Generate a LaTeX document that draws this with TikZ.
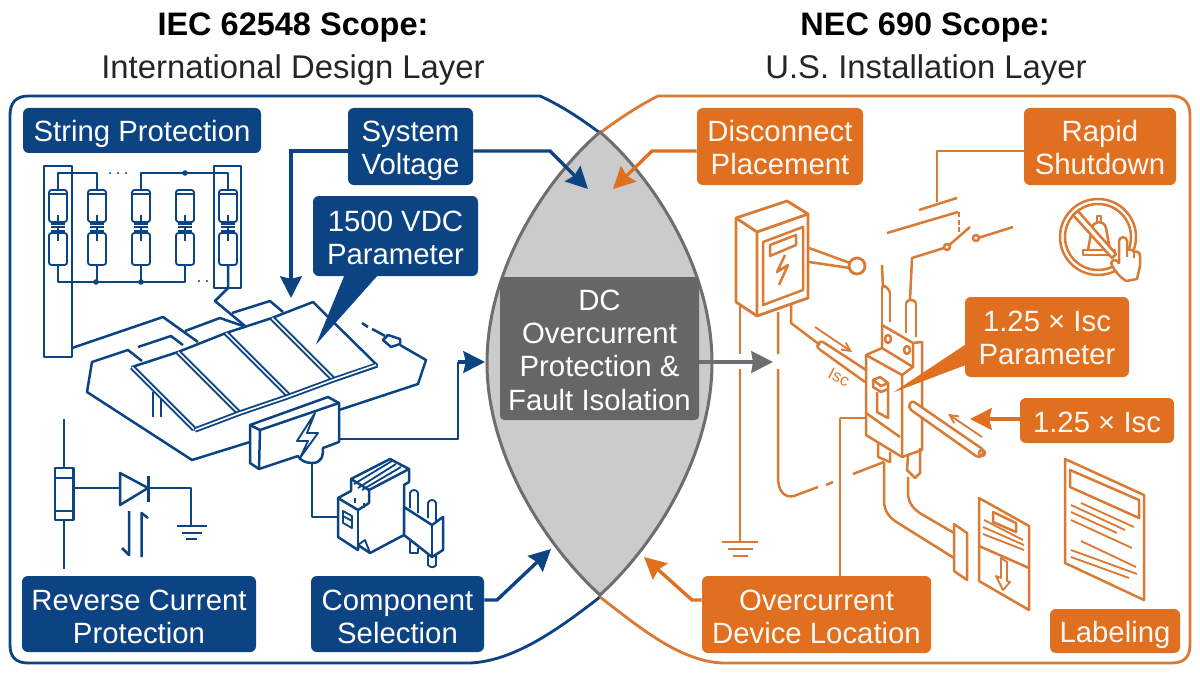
\documentclass[tikz,border=0pt]{standalone}
\usepackage{fontspec}
\setmainfont{Liberation Sans}
\usetikzlibrary{arrows.meta,calc}
\definecolor{iecblue}{HTML}{0B4383}
\definecolor{necor}{HTML}{E0701F}
\definecolor{necline}{HTML}{D97A35}
\definecolor{lensfill}{HTML}{CBCBCB}
\definecolor{lensline}{HTML}{6E6E6E}
\definecolor{corebox}{HTML}{666666}
\tikzset{
  bl/.style={draw=iecblue,line width=1.5pt,line join=round},
  blt/.style={draw=iecblue,line width=1.1pt,line join=round},
  ol/.style={draw=necline,line width=1.5pt,line join=round},
  olt/.style={draw=necline,line width=1.1pt,line join=round},
  frameb/.style={draw=iecblue,line width=1.7pt},
  frameo/.style={draw=necline,line width=1.7pt},
  blbox/.style={fill=iecblue,text=white,rounded corners=3.5pt,inner sep=0pt,align=center,font=\fontsize{17.6}{20}\selectfont},
  orbox/.style={fill=necor,text=white!95!necor,rounded corners=3.5pt,inner sep=0pt,align=center,font=\fontsize{17.6}{20}\selectfont},
  corenode/.style={fill=corebox,text=white,rounded corners=2.5pt,inner sep=0pt,align=center,font=\fontsize{17.6}{20}\selectfont},
  titlebold/.style={font=\fontsize{19.5}{24}\selectfont\bfseries,text=black,inner sep=0pt},
  titlereg/.style={font=\fontsize{19.7}{24}\selectfont,text=black!85,inner sep=0pt},
  arrb/.style={draw=iecblue,line width=2pt,-{Stealth[length=13pt,width=13pt,inset=1.5pt]}},
  arro/.style={draw=necor,line width=2pt,-{Stealth[length=13pt,width=13pt,inset=1.5pt]}},
  arrg/.style={draw=lensline,line width=2pt,-{Stealth[length=13pt,width=13pt,inset=1pt]}}
}
\newcommand{\bx}[8]{%
  \pgfmathsetlengthmacro\bxw{(#4-#2)*0.6pt}%
  \pgfmathsetlengthmacro\bxh{(#5-#3)*0.6pt}%
  \node[#6,minimum width=\bxw,minimum height=\bxh] (#1) at ({(#2+#4)/2},{(#3+#5)/2}) {\rule{0pt}{#7pt}#8};}
\begin{document}
\begin{tikzpicture}[x=0.6pt,y=-0.6pt]
\useasboundingbox (0,0) rectangle (1200,675);
\fill[white] (0,0) rectangle (1200,675);
% titles
\node[titlebold] (t1) at (293,28) {IEC 62548 Scope:};
\node[titlereg] (t2) at (293,70) {International Design Layer};
\node[titlebold] (t3) at (925,28) {NEC 690 Scope:};
\node[titlereg] (t4) at (926,70) {U.S. Installation Layer};
% frames
\draw[frameb] (600,133) .. controls (580,118) and (560,105) .. (540,96) -- (28,96) .. controls (16,96) and (10,103) .. (10,115) -- (10,645) .. controls (10,657) and (16,663) .. (28,663) -- (470,663) .. controls (515,661) and (560,628) .. (600,597);
\draw[frameo] (600,133) .. controls (620,118) and (640,105) .. (658,96) -- (1172,96) .. controls (1184,96) and (1190,103) .. (1190,115) -- (1190,645) .. controls (1190,657) and (1184,663) .. (1172,663) -- (722,663) .. controls (680,661) and (640,628) .. (600,597);
% lens
\draw[fill=lensfill,draw=lensline,line width=1.8pt] (600,132) .. controls (550,175) and (487,265) .. (487,363) .. controls (487,450) and (540,540) .. (600,595) .. controls (660,540) and (712,450) .. (712,363) .. controls (712,265) and (650,175) .. (600,132) -- cycle;
\bx{core}{500}{277}{699}{420}{corenode}{14.2}{DC\\Overcurrent\\Protection \&\\Fault Isolation}
% --- strings ---
\draw[bl] (44,166) rectangle (72,357);
\draw[bl] (214,166) rectangle (241,288);
\draw[bl] (58,190) |- (97,173) -- (97,190);
\draw[bl] (141,190) |- (228,173) -- (228,190);
\draw[bl] (58,265) |- (185,282) -- (185,265);
\foreach \x in {97,141} \draw[bl] (\x,265) -- (\x,282);
\fill[iecblue] (185,173) circle (2.8) (96,282) circle (2.8) (141,282) circle (2.8);
\foreach \x in {110,118,126} \fill[iecblue] (\x,173) circle (1.2);
\foreach \x in {199,207} \fill[iecblue] (\x,281) circle (1.2);
\foreach \x in {58,97,141,185,228}{
  \draw[blt,rounded corners=1.5pt] (\x-9,190) rectangle (\x+9,222);
  \draw[blt] (\x-9,194) -- (\x+9,194);
  \draw[blt,rounded corners=1.5pt] (\x-9,233) rectangle (\x+9,265);
  \draw[blt] (\x,215) -- (\x,224) (\x-7,224) -- (\x+7,224) (\x-7,227) -- (\x+7,227) (\x-7,231) -- (\x+7,231) (\x,227) -- (\x,241);
}
\draw[bl] (228,265) -- (228,288) -- (215,301) -- (245,326);
% --- roof & wiring ---
\draw[bl] (72,348) -- (163,317) -- (198,342);
\draw[bl] (185,331) -- (220,318) -- (243,326);
\draw[bl] (232,313) -- (270,301) -- (283,312);
\draw[bl] (138,347) -- (171,336) -- (183,345);
\draw[bl] (142,361) -- (128,350) -- (92,362) -- (87,392) -- (192,460) -- (250,442);
\draw[bl] (153,392) -- (153,417) (161,397) -- (161,417);
% panels
\draw[bl,fill=white] (132,367) -- (178,352) -- (226,333) -- (272,318) -- (313,302) -- (377,365) -- (333,380) -- (287,397) -- (240,413) -- (195,430) -- cycle;
\foreach \a/\b in {132/367,178/352,226/333,272/318}{
  \pgfmathsetmacro\ex{\a+62}\pgfmathsetmacro\ey{\b+62}
  \draw[iecblue,line width=3.2pt] (\a,\b) -- (\ex,\ey);
  \draw[white,line width=1pt] (\a,\b) -- (\ex,\ey);
}
\draw[iecblue,line width=3.2pt,line join=round] (195,430) -- (240,413) -- (287,397) -- (333,380) -- (377,365);
\draw[white,line width=1pt] (195,430) -- (240,413) -- (287,397) -- (333,380) -- (376,365);
% right wire + fuse
\draw[bl] (362,323) -- (368,327) (372,329) -- (376,331);
\draw[bl] (376,331) -- (385,336);
\draw[bl] (383,340) -- (388,335) -- (400,339) -- (400,344) -- (391,347) -- cycle;
\draw[bl] (400,345) -- (426,360) -- (418,384) -- (339,410);
% surge box
\draw[bl,fill=white] (250,425) -- (328,397) -- (339,403) -- (339,442) -- (323,448) .. controls (323,456) and (322,463) .. (312,463) .. controls (305,463) and (300,460) .. (298,456) -- (259,469) -- (250,463) -- cycle;
\draw[bl] (250,425) -- (260,430) -- (339,403);
\draw[bl] (260,430) -- (259,469);
\draw[blt,fill=white] (315,413) -- (297,441) -- (308,441) -- (300,458) -- (318,433) -- (307,433) -- cycle;
\coordinate (surgeR) at (339,439);
\coordinate (surgeB) at (312,463);
\draw[bl,line width=1.7pt] (surgeR) -- (458,439) -- (458,362);
\coordinate (lensL) at (485,362);
\draw[arrb] (458,362) -- (lensL);
% callout
\draw[iecblue,fill=iecblue] (347,270) -- (382,270) -- (317,343) -- cycle;
\bx{vdc}{313}{196}{478}{276}{blbox}{14.2}{1500 VDC\\Parameter}
% system voltage etc
\bx{strp}{23}{108}{261}{153}{blbox}{16.6}{String Protection}
\bx{sysv}{348}{108}{473}{185}{blbox}{17.8}{System\\Voltage}
\coordinate (svtip) at (291,298);
\draw[arrb] (sysv.west |- 0,151) -| (svtip);
\coordinate (lensA) at (588,189);
\draw[arrb] (sysv.east |- 0,151) -- (550,151) -- (lensA);
\bx{disc}{697}{108}{863}{185}{orbox}{13.6}{Disconnect\\Placement}
\coordinate (lensB) at (613,189);
\draw[arro] (disc.west |- 0,151) -- (652,151) -- (lensB);
% reverse current
\bx{rev}{22}{576}{256}{652}{blbox}{15.4}{Reverse Current\\Protection}
\bx{comp}{311}{576}{484}{652}{blbox}{15.4}{Component\\Selection}
\coordinate (lensC) at (551,549);
\draw[arrb] (comp.east |- 0,600) -- (497,600) -- (lensC);
\draw[bl] (64,419) -- (64,468) (64,520) -- (64,569);
\draw[bl] (55,468) rectangle (73.5,520);
\draw[bl] (55,478) -- (73.5,478) (55,511) -- (73.5,511);
\draw[bl] (73.5,488) -- (120,488);
\draw[bl] (120,473) -- (120,505) -- (148,488) -- cycle;
\draw[bl] (148.5,476) -- (148.5,502);
\draw[bl] (148.5,488) -- (191,488) -- (191,526);
\draw[bl] (177,526) -- (207,526) (182,533) -- (202,533) (186,539) -- (197,539);
\draw[bl] (129,511) -- (129,555) -- (122,548);
\draw[bl] (141.5,557) -- (141.5,513) -- (148,518);
% DIN component
\draw[bl] (surgeB) -- (312,517) -- (338,517);
\draw[bl,fill=white] (351,479) -- (390,459) -- (409,469) -- (409,482) -- (404,485) -- (404,535) -- (370,553) -- (358,545) -- (358,550) -- (338,537) -- (338,498) -- (351,491) -- cycle;
\draw[bl] (351,479) -- (369,490) -- (409,469);
\draw[bl] (369,490) -- (369,503) -- (358,510) -- (338,498);
\draw[bl] (358,510) -- (358,550);
\draw[blt] (358,488) -- (396,464) (362,490) -- (401,467) (354,484) -- (392,461);
\draw[blt] (343,511) -- (352,516) -- (352,528) -- (343,523) -- cycle (343,516) -- (352,521);
\draw[blt] (355,498) -- (355,503) (364,503) -- (364,508);
\draw[blt] (358,545) -- (365,540) -- (370,553);
\draw[bl,fill=white] (404,507) -- (432,525) -- (443,517) -- (443,550) -- (432,557) -- (404,535) -- cycle;
\draw[bl] (432,525) -- (432,557);
\draw[blt,fill=white] (410,508) -- (410,493) .. controls (411,489) and (417,489) .. (418,493) -- (418,513);
\draw[blt,fill=white] (428,518) -- (428,503) .. controls (429,499) and (435,499) .. (436,503) -- (436,521);
\draw[blt] (410,541) -- (410,553) -- (418,553) -- (418,548);
\draw[blt] (428,555) -- (428,565) .. controls (431,568) and (434,568) .. (436,565) -- (436,555);
% ---- right side -----
\bx{rapid}{1024}{108}{1176}{185}{orbox}{14.2}{Rapid\\Shutdown}
\draw[ol] (rapid.west |- 0,151) -- (937,151) -- (937,202);
\draw[ol] (919,210) -- (957,198);
\draw[ol] (887,233) -- (958,212);
\draw[olt,dash pattern=on 3pt off 1.5pt] (959,212) -- (959,233);
\draw[ol] (947,247) -- (970,227);
\draw[ol,fill=white] (947,247) circle (3);
\draw[ol,fill=white] (976,238) circle (3);
\draw[ol] (978,238) -- (1013,227);
\draw[ol] (944,248) -- (912,258) -- (910,300);
\draw[ol] (882,265) -- (883,288);
% enclosure
\draw[ol,line width=1.7pt] (736,218) -- (787,201) -- (808,214) -- (808,298) -- (757,316) -- (736,302) -- cycle;
\draw[ol,line width=1.7pt] (736,218) -- (757,232) -- (808,214) (757,232) -- (757,316);
\draw[ol] (763,242) -- (803,227) -- (803,290) -- (763,305) -- cycle;
\draw[ol] (770,245) -- (796,235) -- (796,245) -- (770,256) -- cycle;
\draw[ol] (785,255) -- (777,272) -- (788,265) -- (779,285);
\draw[ol] (809,248) -- (850,263) (809,262) -- (850,268);
\draw[ol,line width=1.7pt,fill=white] (857,266) circle (8);
% wires
\draw[ol] (740,305) -- (740,354) (740,369) -- (740,542);
\draw[ol] (722,542) -- (758,542) (728,549) -- (753,549) (733,556) -- (748,556);
\draw[ol] (778,312) -- (778,354) (778,369) -- (778,477) .. controls (778,492) and (785,498) .. (794,496) -- (818,487);
\draw[ol] (826,485) -- (833,482);
\draw[ol] (853,474) -- (884,462);
\coordinate (coreR) at (773,362);
\draw[arrg] (core.east |- 0,362) -- (coreR);
\draw[ol] (791,305) -- (791,323) -- (820,345);
\draw[ol] (823,342) -- (866,370) (819,349) -- (865,382);
\draw[ol] (819,349) .. controls (815,346) and (819,340) .. (823,342);
\draw[olt,-{Straight Barb[length=5pt,width=5pt]}] (815,327) -- (852,352);
\node[text=necline,rotate=-27,font=\fontsize{10}{12}\selectfont,inner sep=0pt] (isc) at (839,377) {Isc};
% breaker
\draw[ol] (882,288) -- (882,325) (890,293) -- (890,322) (906,303) -- (906,333) (916,303) -- (916,337);
\draw[ol] (882,288) .. controls (882,284) and (888,286) .. (890,293);
\draw[ol] (906,303) .. controls (907,299) and (915,299) .. (916,303);
\draw[ol,fill=white] (882,325) -- (913,343) -- (922,342) -- (922,450) -- (902,457) -- (866,435) -- (866,355) -- (882,348) -- cycle;
\draw[ol] (866,355) -- (902,375) -- (902,457);
\draw[ol] (902,375) -- (913,367) -- (913,343);
\draw[ol] (882,348) -- (913,367);
\draw[ol] (888,339) ellipse (3 and 4) (907,350) ellipse (3 and 4);
\draw[ol] (866,413) -- (900,437);
\draw[ol] (873,380) -- (880,377) -- (888,383) -- (888,389) -- (881,392) -- (873,387) -- cycle (873,380) -- (881,386) -- (888,383);
\draw[ol] (877,392) -- (877,412) -- (888,418) -- (888,389);
\draw[ol] (878,443) -- (878,457) -- (890,462) -- (890,452);
\draw[ol] (908,456) -- (907,470) -- (915,478) -- (920,473) -- (920,448);
\draw[ol] (865,418) -- (840,418);
\bx{cap}{965}{297}{1129}{377}{orbox}{13.6}{1.25 × Isc\\Parameter}
\draw[necor,fill=necor] (970,342) -- (970,363) -- (896,391) -- cycle;
% right cable
\draw[ol,fill=white] (914,402) -- (981,448) .. controls (987,452) and (980,460) .. (976,456) -- (911,410) .. controls (907,406) and (911,400) .. (914,402) -- cycle;
\draw[ol] (982,453) ellipse (3 and 3);
\draw[olt,-{Straight Barb[length=5pt,width=5pt]}] (982,437) -- (948,414);
\bx{isc2}{1020}{398}{1174}{443}{orbox}{14.2}{1.25 × Isc}
\coordinate (isctip) at (970,419);
\draw[arro] (isc2.west |- 0,419) -- (isctip);
% overcurrent
\bx{over}{702}{576}{931}{653}{orbox}{14.8}{Overcurrent\\Device Location}
\draw[ol] (840,418) -- (840,576);
\coordinate (lensD) at (644,557);
\draw[arro] (over.west |- 0,600) -- (692,600) -- (lensD);
% lower wires
\draw[ol] (884,462) -- (884,500) .. controls (884,512) and (890,518) .. (898,523) -- (954,558);
\draw[ol] (908,477) -- (908,493) .. controls (908,503) and (914,510) .. (923,515) -- (954,533);
\draw[ol] (954,524) -- (967,533) -- (967,580) -- (954,571) -- cycle;
% small label
\draw[ol] (979,498) -- (1029,526) -- (1029,610) -- (979,581) -- cycle;
\draw[ol] (993,512) -- (1016,523) -- (1016,532) -- (993,522) -- cycle;
\draw[olt] (984,520) -- (1023,540) (983,527) -- (1024,545) (983,534) -- (1024,550);
\draw[ol] (979,546) -- (1029,568);
\draw[olt] (1001,558) -- (1001,578) -- (996,576) -- (1003,590) -- (1010,582) -- (1007,581) -- (1007,562) -- cycle;
% large label
\draw[ol] (1065,459) -- (1144,495) -- (1144,600) -- (1065,563) -- cycle;
\draw[ol] (1070,470) -- (1139,500) -- (1139,518) -- (1070,487) -- cycle;
\draw[olt] (1081,503) -- (1134,527) (1071,505) -- (1125,530) (1071,512) -- (1117,533) (1071,520) -- (1132,548) (1081,541) -- (1136,567) (1071,550) -- (1137,574) (1071,557) -- (1129,578);
\bx{lab}{1050}{609}{1180}{653}{orbox}{17.8}{Labeling}
% rapid shutdown icon
\draw[ol] (1098,237) circle (38) circle (33);
\draw[ol] (1088,250) -- (1092,228) .. controls (1093,224) and (1096,222) .. (1099,222) .. controls (1102,222) and (1105,224) .. (1106,228) -- (1110,250);
\draw[ol] (1097,222) -- (1097,216) -- (1101,216) -- (1101,222);
\draw[ol] (1083,250) -- (1115,250) -- (1115,255) -- (1083,255) -- cycle;
\draw[ol,fill=white] (1073,215) -- (1112,258) -- (1116,254) -- (1078,211) -- cycle;
\draw[ol,fill=white] (1119,260) -- (1119,241) .. controls (1119,236) and (1127,236) .. (1127,241) -- (1127,250) .. controls (1131,249) and (1133,250) .. (1134,252) .. controls (1137,251) and (1140,252) .. (1140,256) -- (1140,266) -- (1137,279) -- (1126,281) .. controls (1120,277) and (1115,272) .. (1111,263) .. controls (1113,259) and (1116,259) .. (1119,263) -- cycle;
\draw[olt] (1127,250) -- (1127,257) (1134,252) -- (1134,258);
\end{tikzpicture}
\end{document}
